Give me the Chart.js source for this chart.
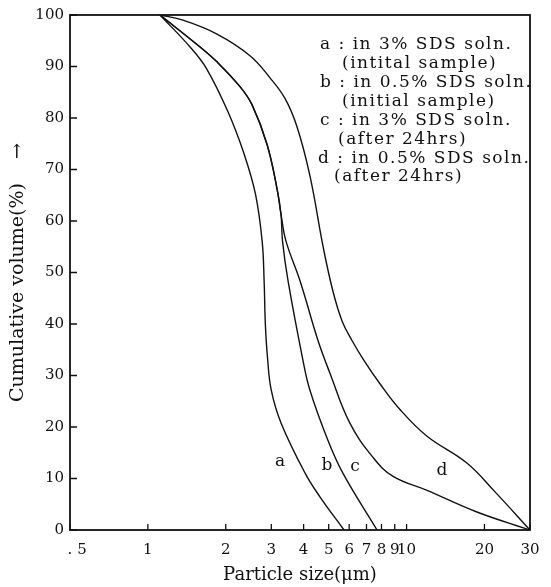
<!DOCTYPE html>
<html>
<head>
<meta charset="utf-8">
<script src="https://cdn.jsdelivr.net/npm/chart.js@4.4.1/dist/chart.umd.min.js"></script>
<style>
html, body { margin: 0; padding: 0; background: #fff; }
#wrap { width: 551px; height: 587px; }
</style>
</head>
<body>
<div id="wrap"><canvas id="myChart"></canvas></div>
<script>
// particle size ticks (um)
const xTicks = [0.5, 1, 2, 3, 4, 5, 6, 7, 8, 9, 10, 20, 30];
const xTickLabels = ['   . 5', '1', '2', '3', '4', '5', '6', '7', '8', '9', '10', '20', '30'];
const yTicks = [0, 10, 20, 30, 40, 50, 60, 70, 80, 90, 100];

// curve a : 3% SDS, initial
const sizeA = [1.114, 1.455, 1.685, 2.040, 2.359, 2.606, 2.765, 2.814, 2.845, 2.90, 3.000, 3.277, 4.057, 4.632, 5.73];
const volA  = [100, 93.8, 89.6, 81.2, 72.9, 65.2, 56.1, 48.4, 40.0, 33.5, 27.1, 20.7, 11.0, 6.4, 0];
// curve b : 0.5% SDS, initial
const sizeB = [1.114, 1.591, 1.850, 2.270, 2.526, 2.887, 3.156, 3.271, 3.315, 3.481, 3.978, 4.234, 4.969, 5.68, 7.69];
const volB  = [100, 93.8, 90.9, 86.1, 82.6, 74.9, 66.3, 61.3, 56.1, 48.4, 32.9, 27.1, 17.4, 11.0, 0];
// curve c : 3% SDS, after 24hrs
const sizeC = [1.114, 1.591, 1.850, 2.270, 2.526, 2.887, 3.156, 3.271, 3.419, 3.873, 4.546, 5.06, 6.045, 7.42, 8.87, 12.0, 18.7, 30];
const volC  = [100, 93.8, 90.9, 86.1, 82.6, 74.9, 66.3, 61.3, 56.1, 48.4, 36.8, 30.4, 20.7, 14.1, 10.4, 7.7, 3.5, 0];
// curve d : 0.5% SDS, after 24hrs
const sizeD = [1.114, 1.367, 1.850, 2.482, 2.966, 3.388, 3.771, 4.234, 4.753, 5.19, 5.63, 6.15, 6.85, 7.89, 9.43, 12.0, 17.1, 21.97, 30];
const volD  = [100, 99.0, 96.3, 92.1, 87.8, 83.8, 78.3, 68.7, 55.1, 46.4, 40.6, 36.8, 32.9, 28.4, 23.4, 18.2, 13.0, 7.4, 0];

// curve letters written on the plot
const curveNames = ['a', 'b', 'c', 'd'];
const nameX = [3.24, 4.92, 6.32, 13.7];
const nameY = [13.2, 12.6, 12.4, 11.6];

const legendLines = [
    'a : in 3% SDS soln.',
    '(intital sample)',
    'b : in 0.5% SDS soln.',
    '(initial sample)',
    'c : in 3% SDS soln.',
    '(after 24hrs)',
    'd : in 0.5% SDS soln.',
    '(after 24hrs)'
];
const legendIndent = [0, 22, 0, 22, 0, 18, -2, 14];

const FONT = "'DejaVu Serif', serif";

function pts(xs, ys) {
    return xs.map((x, i) => ({ x: x, y: ys[i] }));
}

function curve(xs, ys) {
    return {
        data: pts(xs, ys),
        showLine: true,
        borderColor: '#111',
        borderWidth: 1.4,
        pointRadius: 0,
        fill: false,
        tension: 0.4
    };
}

// frame, inner ticks, labels
const decor = {
    id: 'decor',
    afterDraw(chart) {
        const ctx = chart.ctx;
        const a = chart.chartArea;
        const xs = chart.scales.x, ys = chart.scales.y;
        ctx.save();
        ctx.strokeStyle = '#111';
        ctx.lineWidth = 1.8;
        ctx.strokeRect(a.left, a.top, a.right - a.left, a.bottom - a.top);

        ctx.lineWidth = 1.3;
        ctx.beginPath();
        yTicks.forEach(v => {
            const y = ys.getPixelForValue(v);
            ctx.moveTo(a.left, y);
            ctx.lineTo(a.left + 7, y);
        });
        xTicks.forEach(v => {
            const x = xs.getPixelForValue(v);
            ctx.moveTo(x, a.bottom);
            ctx.lineTo(x, a.bottom - 6);
        });
        ctx.stroke();

        ctx.fillStyle = '#111';
        ctx.font = '17px ' + FONT;
        ctx.textAlign = 'center';
        ctx.textBaseline = 'middle';
        curveNames.forEach((n, i) => {
            ctx.fillText(n, xs.getPixelForValue(nameX[i]), ys.getPixelForValue(nameY[i]));
        });

        ctx.textAlign = 'left';
        ctx.font = '17px ' + FONT;
        ctx.letterSpacing = '1.5px';
        legendLines.forEach((t, i) => {
            ctx.fillText(t, 320 + legendIndent[i], 45 + i * 18.86);
        });
        ctx.restore();
    }
};

new Chart(document.getElementById('myChart'), {
    type: 'scatter',
    data: {
        datasets: [
            curve(sizeA, volA),
            curve(sizeB, volB),
            curve(sizeC, volC),
            curve(sizeD, volD)
        ]
    },
    options: {
        responsive: true,
        maintainAspectRatio: false,
        animation: false,
        layout: { padding: { top: 13, right: 21, left: 0, bottom: 0 } },
        plugins: {
            legend: { display: false },
            tooltip: { enabled: false }
        },
        scales: {
            x: {
                type: 'logarithmic',
                min: 0.5,
                max: 30,
                afterBuildTicks: s => { s.ticks = xTicks.map(v => ({ value: v })); },
                afterFit: s => { s.height = 57; },
                grid: { display: false, drawTicks: false },
                border: { display: false },
                ticks: {
                    autoSkip: false,
                    maxRotation: 0,
                    padding: 11,
                    color: '#111',
                    font: { family: FONT, size: 15 },
                    callback: v => xTickLabels[xTicks.indexOf(v)]
                },
                title: {
                    display: true,
                    text: 'Particle size(μm)',
                    color: '#111',
                    font: { family: FONT, size: 18 },
                    padding: { top: 0, bottom: 1 }
                }
            },
            y: {
                min: 0,
                max: 100,
                afterFit: s => { s.width = 70; },
                grid: { display: false, drawTicks: false },
                border: { display: false },
                ticks: {
                    stepSize: 10,
                    padding: 6,
                    color: '#111',
                    font: { family: FONT, size: 15 }
                },
                title: {
                    display: true,
                    text: 'Cumulative volume(%)    →',
                    color: '#111',
                    font: { family: FONT, size: 19 },
                    padding: { top: 7, bottom: 0 }
                }
            }
        }
    },
    plugins: [decor]
});
</script>
</body>
</html>
